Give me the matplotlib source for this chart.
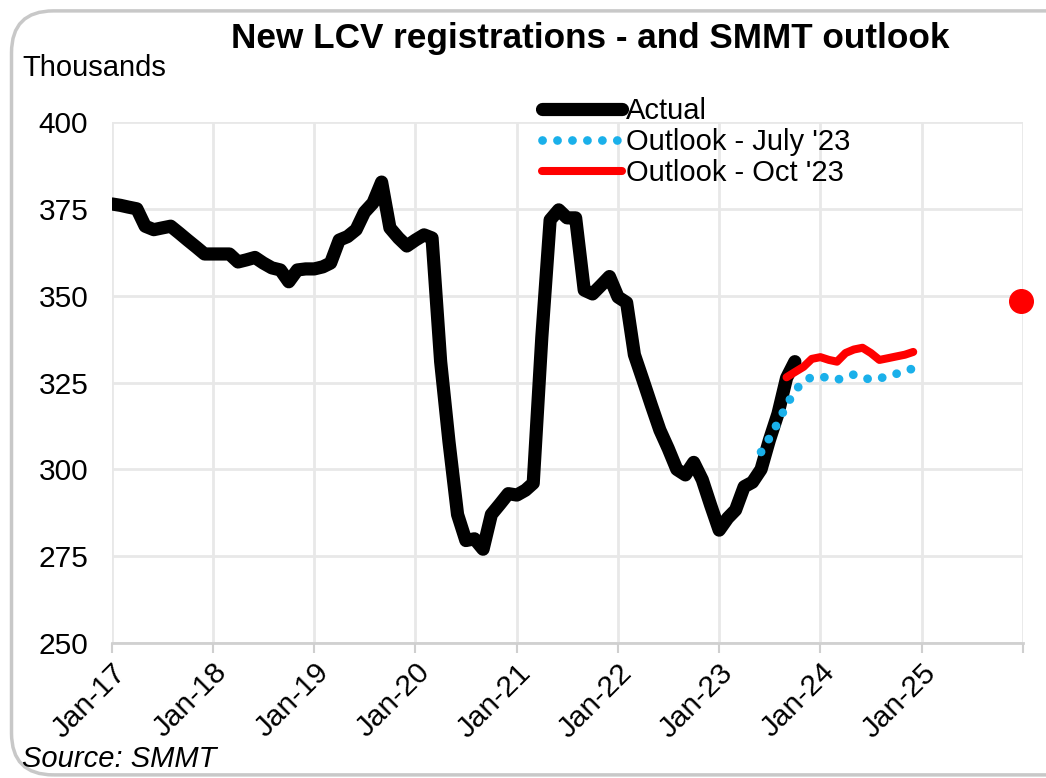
import matplotlib.pyplot as plt
import matplotlib.dates as mdates
from matplotlib.patches import FancyBboxPatch
import pandas as pd

plt.rcParams['font.family'] = ['Liberation Sans', 'DejaVu Sans']

# rolling 12-month LCV registrations, thousands
actual_start = '2017-01-01'
actual = [376.4, 376.0, 375.5, 375.0, 370.0, 369.0, 369.5, 370.0, 368.0, 366.0, 364.0, 362.0,
          362.0, 362.0, 362.0, 359.7, 360.3, 361.0, 359.4, 358.0, 357.4, 354.0, 357.4, 357.7,
          357.7, 358.3, 359.4, 366.0, 367.0, 369.0, 374.0, 376.7, 382.7, 369.5, 366.6, 364.3,
          366.0, 367.5, 366.6, 331.0, 308.0, 287.0, 279.5, 280.0, 277.0, 287.0, 290.0, 293.0,
          292.6, 294.0, 296.0, 338.0, 371.8, 374.7, 372.4, 372.4, 351.6, 350.5, 353.0, 355.5,
          349.6, 348.0, 333.0, 325.7, 318.5, 311.3, 306.0, 300.0, 298.4, 302.0, 297.0, 289.7,
          282.5, 286.0, 288.3, 295.0, 296.3, 300.0, 308.4, 316.0, 326.3, 331.0]

july_start = '2023-06-01'
outlook_jul = [305.0, 309.0, 313.5, 318.5, 322.5, 325.5, 326.5, 326.7, 326.3, 325.8, 326.5, 327.3,
               326.5, 325.8, 326.2, 326.8, 327.5, 328.4, 329.0]

oct_start = '2023-09-01'
outlook_oct = [326.5, 328.0, 329.5, 331.8, 332.3, 331.5, 331.0, 333.5, 334.5, 335.0, 333.5, 331.5,
               332.0, 332.5, 333.0, 333.8]

smmt_2025_date = pd.Timestamp('2025-12-25')
smmt_2025 = 348.6

ytick_vals = [250, 275, 300, 325, 350, 375, 400]

d_act = pd.date_range(actual_start, periods=len(actual), freq='MS')
d_jul = pd.date_range(july_start, periods=len(outlook_jul), freq='MS')
d_oct = pd.date_range(oct_start, periods=len(outlook_oct), freq='MS')

fig = plt.figure(figsize=(10.46, 7.78), dpi=100)
ax = fig.add_axes([0.107, 0.1735, 0.871, 0.6697])

# rounded frame round the whole chart
frame = FancyBboxPatch((0.011, 0.004), 1.05, 0.982, boxstyle='round,pad=0,rounding_size=0.04',
                       transform=fig.transFigure, fill=False, edgecolor='#c8c8c8', lw=2.5,
                       mutation_aspect=1046 / 778, zorder=0)
fig.patches.append(frame)

ax.plot(d_act, actual, color='black', lw=9.5, solid_capstyle='round', solid_joinstyle='round',
        label='Actual', zorder=3)
ax.plot(d_jul, outlook_jul, color='#1ab0ea', lw=6.3, linestyle=(0, (0.01, 1.7)),
        dash_capstyle='round', label="Outlook - July '23", zorder=4)
ax.plot(d_oct, outlook_oct, color='#ff0000', lw=5.8, solid_capstyle='round',
        solid_joinstyle='round', label="Outlook - Oct '23", zorder=5)
ax.plot([smmt_2025_date], [smmt_2025], 'o', color='#ff0000', ms=17, zorder=5, clip_on=False)

ax.set_xlim(pd.Timestamp('2017-01-01'), pd.Timestamp('2026-01-01'))
ax.set_ylim(250, 400)
ax.set_yticks(ytick_vals)

xt = pd.date_range('2017-01-01', '2026-01-01', freq='YS')
ax.set_xticks(xt)
ax.set_xticklabels([d.strftime('%b-%y') if d.year < 2026 else '' for d in xt],
                   rotation=45, ha='right', rotation_mode='anchor')

ax.tick_params(axis='x', length=7, width=1.5, color='#cfcfcf', labelsize=21.5, pad=4)
ax.tick_params(axis='y', length=0, labelsize=21.5, pad=17)
ax.grid(True, color='#e8e8e8', lw=2)
ax.set_axisbelow(True)
for s in ['top', 'right', 'left']:
    ax.spines[s].set_visible(False)
ax.spines['bottom'].set_color('#d0d0d0')
ax.spines['bottom'].set_linewidth(2)

fig.text(0.564, 0.951, 'New LCV registrations - and SMMT outlook', ha='center', va='center',
         fontsize=25.3, fontweight='bold')
fig.text(0.021, 0.913, 'Thousands', ha='left', va='center', fontsize=21)
fig.text(0.021, 0.024, 'Source: SMMT', ha='left', va='center', fontsize=21, style='italic')

ax.legend(loc='upper left', bbox_to_anchor=(0.518, 0.875), bbox_transform=fig.transFigure,
          frameon=False, fontsize=21, handlelength=2.75, handletextpad=0.15, labelspacing=0.1,
          borderpad=0, borderaxespad=0)

fig.savefig('out.png', dpi=100)
